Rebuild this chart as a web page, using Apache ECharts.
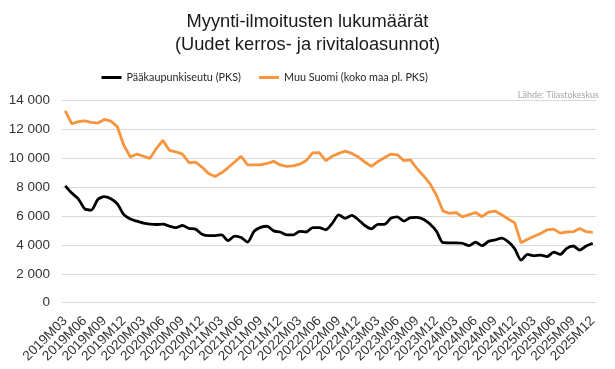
<!DOCTYPE html>
<html>
<head>
<meta charset="utf-8">
<script src="https://cdn.jsdelivr.net/npm/echarts@6/dist/echarts.min.js"></script>
<style>html,body{margin:0;padding:0;background:#fff}#c{width:615px;height:369px}</style>
</head>
<body>
<div id="c"></div>
<script>
const categories = [
  '2019M03','2019M04','2019M05','2019M06','2019M07','2019M08','2019M09','2019M10','2019M11','2019M12',
  '2020M01','2020M02','2020M03','2020M04','2020M05','2020M06','2020M07','2020M08','2020M09','2020M10','2020M11','2020M12',
  '2021M01','2021M02','2021M03','2021M04','2021M05','2021M06','2021M07','2021M08','2021M09','2021M10','2021M11','2021M12',
  '2022M01','2022M02','2022M03','2022M04','2022M05','2022M06','2022M07','2022M08','2022M09','2022M10','2022M11','2022M12',
  '2023M01','2023M02','2023M03','2023M04','2023M05','2023M06','2023M07','2023M08','2023M09','2023M10','2023M11','2023M12',
  '2024M01','2024M02','2024M03','2024M04','2024M05','2024M06','2024M07','2024M08','2024M09','2024M10','2024M11','2024M12',
  '2025M01','2025M02','2025M03','2025M04','2025M05','2025M06','2025M07','2025M08','2025M09','2025M10','2025M11','2025M12'
];
const pks = [
  8100,7600,7200,6500,6420,7150,7350,7200,6850,6100,
  5800,5650,5520,5450,5420,5450,5300,5200,5350,5150,5100,4750,
  4650,4650,4700,4300,4620,4520,4200,4950,5220,5300,4980,4900,
  4700,4700,4950,4900,5200,5200,5050,5500,6080,5850,6050,5750,
  5350,5120,5430,5430,5850,5950,5650,5900,5920,5780,5450,4950,
  4160,4150,4150,4120,3950,4200,3950,4250,4350,4480,4230,3750,
  2950,3350,3250,3300,3200,3500,3350,3770,3930,3650,3930,4120
];
const muu = [
  13300,12400,12550,12600,12500,12450,12700,12580,12200,10900,
  10100,10300,10150,10000,10700,11250,10550,10450,10300,9700,9750,9400,
  8950,8750,9000,9350,9750,10150,9550,9550,9550,9650,9800,9550,
  9450,9480,9600,9850,10380,10400,9850,10150,10350,10500,10350,10100,
  9750,9450,9780,10050,10300,10250,9850,9900,9300,8800,8250,7450,
  6350,6200,6250,5950,6100,6250,5960,6280,6350,6100,5800,5550,
  4150,4400,4600,4800,5050,5100,4820,4900,4920,5150,4920,4880
];
const seriesNames = ['Pääkaupunkiseutu (PKS)', 'Muu Suomi (koko maa pl. PKS)'];
const yTicks = [0,2000,4000,6000,8000,10000,12000,14000];
const titleLines = ['Myynti-ilmoitusten lukumäärät', '(Uudet kerros- ja rivitaloasunnot)'];
const sourceText = 'Lähde: Tilastokeskus';

const fmt = v => String(v).replace(/\B(?=(\d{3})+(?!\d))/g, ' ');
const chart = echarts.init(document.getElementById('c'), null, {renderer: 'canvas'});
const legendFont = {fontFamily: 'Lato, sans-serif', fontSize: 10.8, color: '#262626'};
chart.setOption({
  animation: false,
  backgroundColor: '#ffffff',
  title: {
    text: titleLines.join('\n'),
    left: 'center', top: 10.5, padding: 0,
    textStyle: {fontFamily: 'Liberation Sans, Arial, sans-serif', fontSize: 18.3, fontWeight: 'normal', color: '#1a1a1a', lineHeight: 23}
  },
  legend: [
    {data: [seriesNames[0]], left: 101.5, top: 72, padding: 0, itemWidth: 20, itemHeight: 3, icon: 'rect', textStyle: legendFont},
    {data: [seriesNames[1]], left: 259, top: 72, padding: 0, itemWidth: 20, itemHeight: 3, icon: 'rect', textStyle: legendFont}
  ],
  graphic: [{
    type: 'text', right: 16, top: 91,
    style: {text: sourceText, fill: '#a6a6a6', font: '9px Lato, sans-serif'}
  }],
  grid: {left: 62, right: 19, top: 100.7, bottom: 66.3, containLabel: false},
  xAxis: {
    type: 'category', data: categories, boundaryGap: true,
    axisTick: {show: false},
    axisLine: {show: true, lineStyle: {color: '#d9d9d9', width: 1}},
    axisLabel: {interval: 2, rotate: 45, margin: 16, fontFamily: 'Liberation Sans, Arial, sans-serif', fontSize: 13.5, color: '#333333'}
  },
  yAxis: {
    type: 'value', min: yTicks[0], max: yTicks[yTicks.length-1], interval: yTicks[1]-yTicks[0],
    axisLine: {show: false}, axisTick: {show: false},
    splitLine: {show: true, lineStyle: {color: '#d9d9d9', width: 1}},
    axisLabel: {margin: 12, formatter: fmt, fontFamily: 'Liberation Sans, Arial, sans-serif', fontSize: 13.5, color: '#333333'}
  },
  series: [
    {name: seriesNames[0], type: 'line', data: pks, symbol: 'none', smooth: 0.25, lineStyle: {color: '#000000', width: 2.8}, itemStyle: {color: '#000000'}},
    {name: seriesNames[1], type: 'line', data: muu, symbol: 'none', lineStyle: {color: '#f7943e', width: 2.8}, itemStyle: {color: '#f7943e'}}
  ]
});
</script>
</body>
</html>
